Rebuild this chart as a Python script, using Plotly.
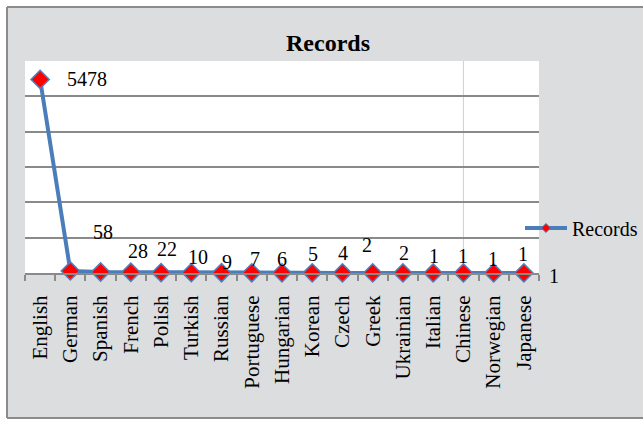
import plotly.graph_objects as go

# Records per language
languages = ["English", "German", "Spanish", "French", "Polish", "Turkish", "Russian",
             "Portuguese", "Hungarian", "Korean", "Czech", "Greek", "Ukrainian",
             "Italian", "Chinese", "Norwegian", "Japanese"]
records = [5478, 58, 28, 22, 10, 9, 7, 6, 5, 4, 2, 2, 1, 1, 1, 1, 1]

# data-label offsets in pixels (right of and above each point)
label_dx = [47, 33, 37, 36, 37, 36, 33, 30, 31, 31, 25, 31, 31, 30, 30, 29, 30]
label_dy = [0, 39, 21, 23, 16, 11, 14, 14, 19, 20, 28, 20, 17, 17, 14, 19, -3]

W, H = 643, 421
SERIF = "Liberation Serif, Times New Roman, serif"
LINE_BLUE = "#4a7ebb"
GRID = "#8a8a8a"

fig = go.Figure()

fig.add_trace(go.Scatter(
    x=languages, y=records, mode="lines+markers", name="Records",
    line=dict(color=LINE_BLUE, width=4),
    marker=dict(symbol="diamond", size=14, color="#ff0000",
                line=dict(color="#4f81bd", width=1.5)),
    cliponaxis=False, showlegend=False, hoverinfo="x+y",
))

# legend entry with a smaller marker
fig.add_trace(go.Scatter(
    x=[None], y=[None], mode="lines+markers", name="Records",
    line=dict(color=LINE_BLUE, width=4),
    marker=dict(symbol="diamond", size=7, color="#ff0000",
                line=dict(color="#4f81bd", width=1)),
    showlegend=True,
))

for lang, val, dx, dy in zip(languages, records, label_dx, label_dy):
    fig.add_annotation(x=lang, y=val, text=str(val), showarrow=False,
                       xanchor="center", yanchor="middle", xshift=dx, yshift=dy,
                       font=dict(family=SERIF, size=20, color="black"))


# pixel position -> paper coordinates
def px_x(p):
    return (p - 25) / (539 - 25)


def px_y(p):
    return (273 - p) / (273 - 61)


shapes = [
    # faint vertical line through the plot area
    dict(type="line", xref="x", yref="y domain", x0="Chinese", x1="Chinese", y0=0, y1=1,
         line=dict(color="#cfcfcf", width=1), layer="below"),
    # white outer margin around the chart frame
    dict(type="rect", xref="paper", yref="paper", x0=px_x(-5), x1=px_x(700), y0=px_y(0), y1=px_y(7),
         fillcolor="white", line=dict(width=0), layer="below"),
    dict(type="rect", xref="paper", yref="paper", x0=px_x(-5), x1=px_x(7), y0=px_y(430), y1=px_y(0),
         fillcolor="white", line=dict(width=0), layer="below"),
    dict(type="rect", xref="paper", yref="paper", x0=px_x(-5), x1=px_x(700), y0=px_y(430), y1=px_y(418),
         fillcolor="white", line=dict(width=0), layer="below"),
    # frame border
    dict(type="line", xref="paper", yref="paper", x0=px_x(7), x1=px_x(700), y0=px_y(7), y1=px_y(7),
         line=dict(color="#8c8c8c", width=2)),
    dict(type="line", xref="paper", yref="paper", x0=px_x(7), x1=px_x(7), y0=px_y(7), y1=px_y(418),
         line=dict(color="#8c8c8c", width=2)),
    dict(type="line", xref="paper", yref="paper", x0=px_x(7), x1=px_x(700), y0=px_y(418), y1=px_y(418),
         line=dict(color="#8c8c8c", width=2)),
]

fig.update_layout(
    width=W, height=H,
    margin=dict(l=25, r=W - 539, t=61, b=H - 273, pad=0, autoexpand=False),
    paper_bgcolor="#dcdddf",
    plot_bgcolor="white",
    title=dict(text="<b>Records</b>", x=328 / W, xref="container", xanchor="center",
               y=1 - 43 / H, yref="container", yanchor="middle",
               font=dict(family=SERIF, size=24, color="black")),
    showlegend=True,
    legend=dict(x=px_x(520), y=px_y(228), xanchor="left", yanchor="middle",
                bgcolor="rgba(0,0,0,0)", borderwidth=0,
                font=dict(family=SERIF, size=20, color="black"),
                itemwidth=42),
    shapes=shapes,
    xaxis=dict(type="category", categoryorder="array", categoryarray=languages,
               showgrid=False, showline=True, linecolor=GRID, linewidth=2,
               ticks="outside", tickson="boundaries", ticklen=6, tickcolor=GRID, tickwidth=1.5,
               tickangle=-90, ticklabelstandoff=12,
               tickfont=dict(family=SERIF, size=21, color="black"),
               range=[-0.5, len(languages) - 0.5], zeroline=False),
    yaxis=dict(range=[0, 6000], dtick=1000, showticklabels=False, ticks="",
               showgrid=True, gridcolor=GRID, gridwidth=2, zeroline=False,
               showline=False),
)

fig.write_html("out.html")
